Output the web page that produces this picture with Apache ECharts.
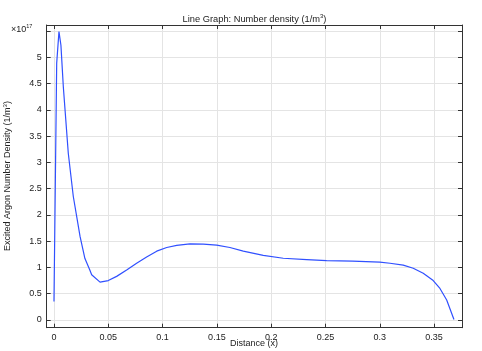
<!DOCTYPE html>
<html><head><meta charset="utf-8">
<script src="https://cdn.jsdelivr.net/npm/echarts@6/dist/echarts.min.js"></script>
<style>html,body{margin:0;padding:0;background:#fff}#c{width:482px;height:351px}</style>
</head><body><div id="c"></div>
<script>
// Data (number density in units of 1e17 1/m^3)
const distance = [0, 0.0025, 0.0046, 0.0064, 0.0086, 0.0132, 0.0178, 0.024, 0.0285, 0.033, 0.0347, 0.0424, 0.05, 0.0577, 0.0669, 0.0761, 0.0853, 0.0946, 0.1038, 0.113, 0.1252, 0.1375, 0.1498, 0.162, 0.1743, 0.1927, 0.2111, 0.2327, 0.251, 0.275, 0.3, 0.3094, 0.3216, 0.3308, 0.34, 0.3492, 0.3554, 0.3616, 0.3683];
const density = [0.35, 4.89, 5.49, 5.23, 4.44, 3.17, 2.35, 1.59, 1.17, 0.95, 0.86, 0.72, 0.75, 0.83, 0.95, 1.08, 1.2, 1.31, 1.38, 1.42, 1.45, 1.445, 1.425, 1.38, 1.31, 1.23, 1.175, 1.15, 1.13, 1.12, 1.10, 1.08, 1.045, 0.985, 0.89, 0.75, 0.60, 0.38, 0.01];
const xTicks = [0, 0.05, 0.1, 0.15, 0.2, 0.25, 0.3, 0.35];
const yTicks = [0, 0.5, 1, 1.5, 2, 2.5, 3, 3.5, 4, 4.5, 5, 5.5];
const yLabels = [0, 0.5, 1, 1.5, 2, 2.5, 3, 3.5, 4, 4.5, 5];
const titleText = 'Line Graph: Number density (1/m';
const xName = 'Distance (x)';
const yName = 'Excited Argon Number Density (1/m';

const FONT = 'Liberation Sans, Arial, sans-serif';
const axisColor = '#333';
const gridColor = '#e4e4e4';
const xMin = -0.0067, xMax = 0.3757, yMin = -0.147, yMax = 5.615;

const chart = echarts.init(document.getElementById('c'), null, {renderer: 'canvas'});
const pts = distance.map((d, i) => [d, density[i]]);

function xAx(pos, show) {
  return {
    type: 'value', position: pos, min: xMin, max: xMax,
    axisLine: {show: true, onZero: false, lineStyle: {color: axisColor, width: 1}},
    axisTick: {show: true, inside: true, length: 4, customValues: xTicks, lineStyle: {color: axisColor}},
    axisLabel: {show: show, customValues: xTicks, fontSize: 9, fontFamily: FONT, color: '#222', margin: 5},
    splitLine: {show: show, lineStyle: {color: gridColor, width: 1}}
  };
}
function yAx(pos, show) {
  return {
    type: 'value', position: pos, min: yMin, max: yMax,
    axisLine: {show: true, onZero: false, lineStyle: {color: axisColor, width: 1}},
    axisTick: {show: true, inside: true, length: 4, customValues: yTicks, lineStyle: {color: axisColor}},
    axisLabel: {show: show, customValues: yLabels, fontSize: 9, fontFamily: FONT, color: '#222', margin: 5},
    splitLine: {show: show, lineStyle: {color: gridColor, width: 1}}
  };
}

chart.setOption({
  animation: false,
  grid: {left: 46.7, right: 20, top: 25, bottom: 23.3, containLabel: false},
  xAxis: [xAx('bottom', true), xAx('top', false)],
  yAxis: [yAx('left', true), yAx('right', false)],
  series: [{
    type: 'line', data: pts, xAxisIndex: 0, yAxisIndex: 0,
    showSymbol: false, smooth: false,
    lineStyle: {color: '#3050ff', width: 1.2}
  }],
  graphic: [
    {type: 'text', x: 254.5, y: 19,
     style: {text: '{a|' + titleText + '}{s|3}{a|)}', align: 'center', verticalAlign: 'middle', rich: {a: {fontSize: 9.3, fontFamily: FONT, fill: '#222'}, s: {fontSize: 6, fontFamily: FONT, fill: '#222', padding: [0,0,5,0]}}}},
    {type: 'text', x: 254, y: 344,
     style: {text: xName, align: 'center', verticalAlign: 'middle', fontSize: 9, fontFamily: FONT, fill: '#222'}},
    {type: 'text', x: 8, y: 176, rotation: Math.PI / 2,
     style: {text: '{a|' + yName + '}{s|3}{a|)}', align: 'center', verticalAlign: 'middle', rich: {a: {fontSize: 9, fontFamily: FONT, fill: '#222'}, s: {fontSize: 6, fontFamily: FONT, fill: '#222', padding: [0,0,5,0]}}}},
    {type: 'text', x: 11, y: 29.5,
     style: {text: '{a|×10}{s|17}', verticalAlign: 'middle', rich: {a: {fontSize: 9, fontFamily: FONT, fill: '#222'}, s: {fontSize: 5.5, fontFamily: FONT, fill: '#222', padding: [0,0,6,0]}}}}
  ]
});
</script></body></html>
